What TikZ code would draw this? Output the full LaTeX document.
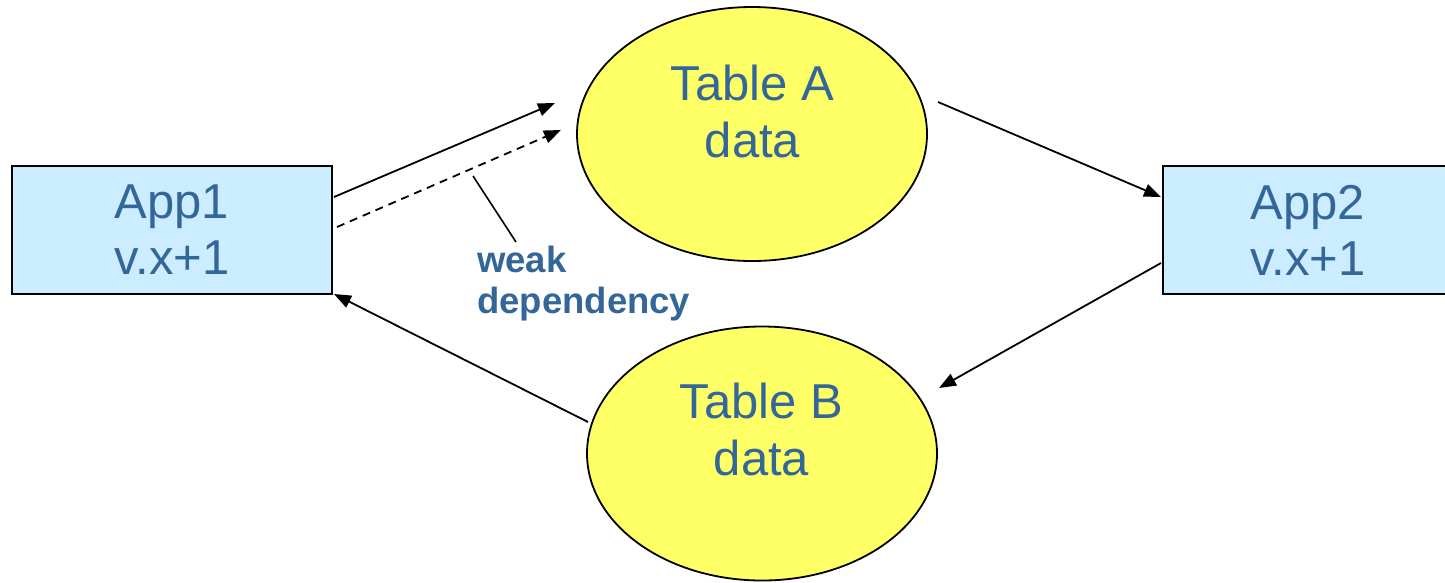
\documentclass[tikz,border=0pt]{standalone}
\usepackage{fontspec}
\setmainfont{Liberation Sans}
\usetikzlibrary{arrows.meta,shapes.geometric,calc}
\definecolor{txtblue}{HTML}{336699}
\definecolor{appfill}{HTML}{CCECFF}
\definecolor{tblfill}{HTML}{FFFF66}

\begin{document}
\begin{tikzpicture}[x=1pt,y=-1pt,
  appbox/.style={draw=black,line width=2pt,fill=appfill,
    minimum width=320pt,minimum height=128pt,inner sep=0pt,
    align=center,text=txtblue,font=\fontsize{49}{56}\selectfont},
  tblnode/.style={ellipse,draw=black,line width=1.8pt,fill=tblfill,
    minimum width=350pt,minimum height=254pt,inner sep=0pt},
  tbltext/.style={align=center,text=txtblue,inner sep=0pt,
    font=\fontsize{49}{57}\selectfont},
  flow/.style={line width=1.8pt,-{Triangle[length=17pt,width=13pt]}},
  weakflow/.style={flow,dash pattern=on 8pt off 6pt},
  leader/.style={line width=1.6pt},
  note/.style={align=left,text=txtblue,inner sep=0pt,
    font=\bfseries\fontsize{36.5}{41}\selectfont},
]
\useasboundingbox (0,0) rectangle (1445,582);

% applications
\node[appbox] (app1) at (172,230) {App1\\v.x+1};
\node[appbox,minimum width=290pt] (app2) at (1308,230) {App2\\v.x+1};

% tables
\node[tblnode] (tblA) at (752,134) {};
\node[tbltext] (tblAtxt) at (752.5,111) {Table A\\data};
\node[tblnode] (tblB) at (762,453.5) {};
\node[tbltext] (tblBtxt) at (761.5,429) {Table B\\data};

% connector ends that stop short of the shapes
\coordinate (wrA) at (555,103);
\coordinate (wkS) at (337,227);
\coordinate (wkA) at (561,130);
\coordinate (rdA) at (938,102);
\coordinate (wrB) at (939,388);
\coordinate (rdB) at (588,422);
\coordinate (ldS) at (473,176);
\coordinate (ldE) at (516,242);

% data flows
\draw[flow] ($(app1.east)+(1,-33)$) -- (wrA);
\draw[weakflow] (wkS) -- (wkA);
\draw[flow] (rdA) -- ($(app2.west)+(-1,-33)$);
\draw[flow] ($(app2.west)+(-1,33)$) -- (wrB);
\draw[flow] (rdB) -- ($(app1.south east)+(1,-1)$);

% annotation
\draw[leader] (ldS) -- (ldE);
\node[note,anchor=north west] (weak) at (477,246) {weak\\dependency};
\end{tikzpicture}
\end{document}
